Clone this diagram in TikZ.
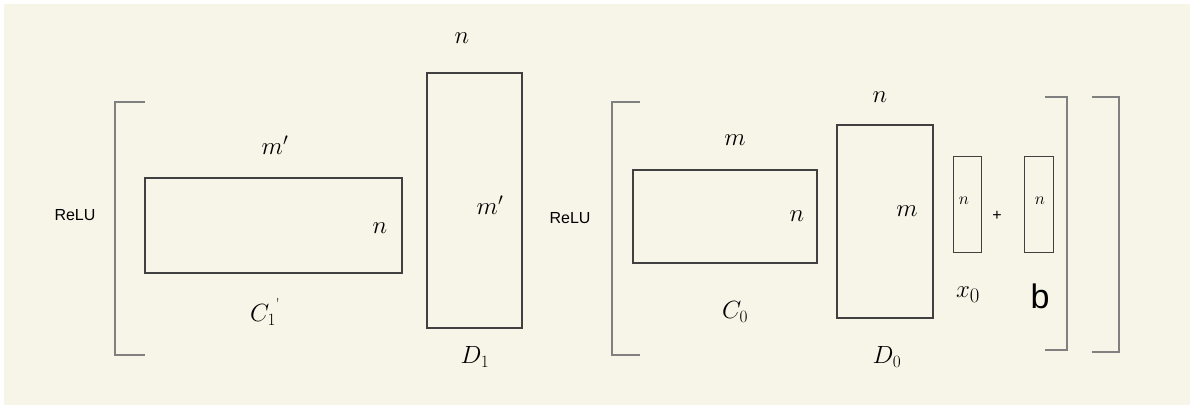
\documentclass[tikz,border=0pt]{standalone}
\usepackage{fontspec}
\newfontfamily\sansf{Liberation Sans}
\begin{document}
\begin{tikzpicture}[x=1pt,y=-1pt,
  mat/.style={draw=black!75,line width=1.3pt},
  brk/.style={draw=black!50,line width=2pt},
  lab/.style={font=\fontsize{28}{30}\selectfont},
  lab2/.style={font=\fontsize{24}{26}\selectfont},
  relu/.style={font=\sansf\fontsize{16}{18}\selectfont}]
\fill[white] (0,0) rectangle (1194,409);
\fill[fill={rgb,255:red,246;green,245;blue,232}] (4,4) rectangle (1190,405);
% brackets
\draw[brk] (145,102) -- (115,102) -- (115,355) -- (145,355);
\draw[brk] (640,102) -- (612,102) -- (612,355) -- (640,355);
\draw[brk] (1045,97) -- (1067,97) -- (1067,350) -- (1045,350);
\draw[brk] (1092,97) -- (1119,97) -- (1119,352) -- (1092,352);
\node[relu] (r1) at (75,215) {ReLU};
\node[relu] (r2) at (570,218) {ReLU};
% C1'
\node[mat,minimum width=257pt,minimum height=95pt,inner sep=0] (c1) at (273.5,225.5) {};
\node[lab2] (c1m) at (275,145) {$m'$};
\node[lab] (c1n) at (380,228) {$n$};
\node[lab2] (c1l) at (265,312) {$C_1$\raisebox{1.2ex}{\fontsize{16}{16}\selectfont\textquotesingle}};
% D1
\node[mat,minimum width=95pt,minimum height=255pt,inner sep=0] (d1) at (474.5,200.5) {};
\node[lab] (d1n) at (462,38) {$n$};
\node[lab2] (d1m) at (490,205) {$m'$};
\node[lab2] (d1l) at (475,357) {$D_1$};
% C0
\node[mat,minimum width=184pt,minimum height=93pt,inner sep=0] (c0) at (725,216.5) {};
\node[lab] (c0m) at (735,140) {$m$};
\node[lab] (c0n) at (797,216) {$n$};
\node[lab2] (c0l) at (735,312) {$C_0$};
% D0
\node[mat,minimum width=96pt,minimum height=193pt,inner sep=0] (d0) at (885,221.5) {};
\node[lab] (d0n) at (880,97) {$n$};
\node[lab] (d0m) at (907,211) {$m$};
\node[lab2] (d0l) at (887,357) {$D_0$};
% x0, b
\node[mat,line width=1pt,minimum width=28pt,minimum height=95pt,inner sep=0] (x0) at (967,204.5) {};
\node[font=\fontsize{16}{18}\selectfont] (x0n) at (964,201) {$n$};
\node[lab] (x0l) at (968,295) {$x_0$};
\node[relu] (plus) at (997,216) {+};
\node[mat,line width=1pt,minimum width=29pt,minimum height=95pt,inner sep=0] (bb) at (1038.5,204.5) {};
\node[font=\fontsize{16}{18}\selectfont] (bn) at (1040,201) {$n$};
\node[font=\sansf\fontsize{34}{36}\selectfont] (bl) at (1040,296) {b};
\end{tikzpicture}
\end{document}
